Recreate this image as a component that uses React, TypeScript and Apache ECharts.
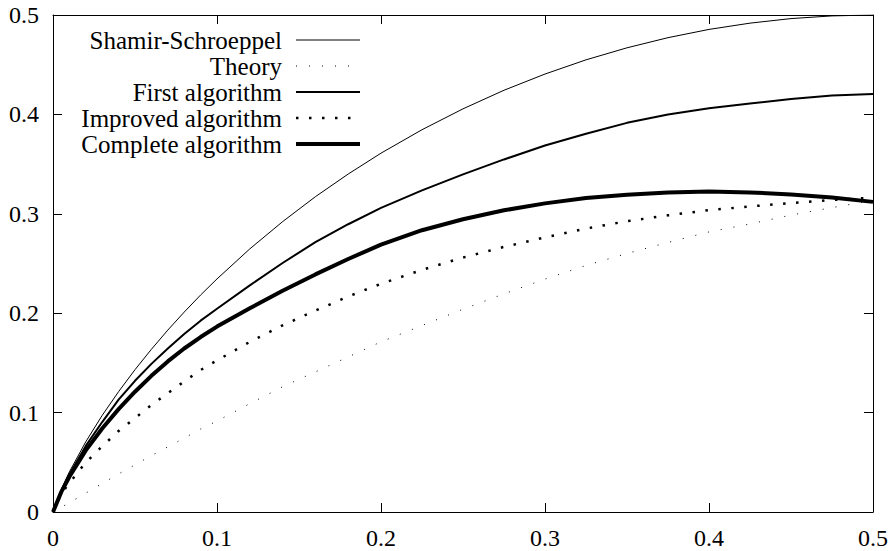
import React, { useEffect, useRef } from "react";
import * as echarts from "echarts";

const xs = [0, 0.005, 0.01, 0.02, 0.03, 0.04, 0.05, 0.06, 0.07, 0.08, 0.09, 0.1, 0.12, 0.14, 0.16, 0.18, 0.2, 0.225, 0.25, 0.275, 0.3, 0.325, 0.35, 0.375, 0.4, 0.425, 0.45, 0.475, 0.5];

const shamirSchroeppel = [0, 0.0227, 0.0404, 0.0707, 0.0972, 0.1211, 0.1432, 0.1637, 0.183, 0.2011, 0.2183, 0.2345, 0.2647, 0.2921, 0.3172, 0.34, 0.361, 0.3846, 0.4056, 0.4243, 0.4406, 0.4549, 0.467, 0.4772, 0.4855, 0.4918, 0.4964, 0.4991, 0.5];
const theory = [0, 0.0047, 0.0094, 0.019, 0.0286, 0.0383, 0.0475, 0.0567, 0.0655, 0.0744, 0.0835, 0.0915, 0.109, 0.126, 0.141, 0.156, 0.1712, 0.1876, 0.204, 0.2195, 0.2343, 0.248, 0.2601, 0.2712, 0.2818, 0.2898, 0.2987, 0.3062, 0.3135];
const firstAlgorithm = [0, 0.021, 0.038, 0.0665, 0.0905, 0.113, 0.132, 0.149, 0.1645, 0.179, 0.1925, 0.2045, 0.228, 0.2505, 0.2715, 0.2895, 0.306, 0.3235, 0.3397, 0.3547, 0.3687, 0.3805, 0.3915, 0.4, 0.4063, 0.411, 0.4155, 0.419, 0.4205];
const improvedAlgorithm = [0, 0.0183, 0.0293, 0.0499, 0.0661, 0.0815, 0.0945, 0.1076, 0.1195, 0.1314, 0.1428, 0.1525, 0.1711, 0.1878, 0.2026, 0.2168, 0.2296, 0.2436, 0.256, 0.2667, 0.2763, 0.2852, 0.2925, 0.2985, 0.3037, 0.3074, 0.3108, 0.3139, 0.3163];
const completeAlgorithm = [0, 0.02, 0.0355, 0.062, 0.084, 0.1035, 0.121, 0.137, 0.1515, 0.1645, 0.176, 0.1865, 0.205, 0.2225, 0.239, 0.2545, 0.269, 0.2835, 0.2945, 0.3035, 0.3105, 0.3158, 0.3192, 0.3215, 0.3225, 0.3215, 0.3195, 0.3165, 0.312];

const legendNames = ["Shamir-Schroeppel", "Theory", "First algorithm", "Improved algorithm", "Complete algorithm"];

const FONT = "Liberation Serif";

const pairs = (ys: number[]) => xs.map((x, i) => [x, ys[i]]);

export default function App() {
  const ref = useRef<HTMLDivElement>(null);
  useEffect(() => {
    if (!ref.current) return;
    const chart = echarts.init(ref.current, undefined, { renderer: "svg" });

    const styles = [
      { width: 1, type: "solid" as any },
      { width: 1, type: [1, 12] as any },
      { width: 2, type: "solid" as any },
      { width: 2.5, type: [2.5, 10.5] as any },
      { width: 4, type: "solid" as any },
    ];
    const seriesData = [shamirSchroeppel, theory, firstAlgorithm, improvedAlgorithm, completeAlgorithm];

    const axisCommon = {
      type: "value" as const,
      min: 0,
      max: 0.5,
      interval: 0.1,
      axisLine: { show: true, onZero: false, lineStyle: { color: "#000", width: 1 } },
      axisTick: { show: true, inside: true, length: 9, lineStyle: { color: "#000", width: 1 } },
      splitLine: { show: false },
    };

    const legendGraphics: any[] = [];
    legendNames.forEach((name, i) => {
      const y = 40 + i * 26;
      legendGraphics.push({
        type: "text",
        x: 282,
        y,
        style: {
          text: name,
          fill: "#000",
          fontFamily: FONT,
          fontSize: 25,
          align: "right",
          verticalAlign: "middle",
        },
      });
      const st = styles[i];
      legendGraphics.push({
        type: "line",
        shape: { x1: 296, y1: y, x2: 360, y2: y },
        style: {
          stroke: "#000",
          lineWidth: st.width,
          lineDash: Array.isArray(st.type) ? st.type : null,
          lineCap: "butt",
        },
      });
    });

    chart.setOption({
      animation: false,
      backgroundColor: "#fff",
      textStyle: { fontFamily: FONT },
      grid: { left: 53, right: 21, top: 15, bottom: 39, containLabel: false },
      xAxis: [
        {
          ...axisCommon,
          position: "bottom",
          axisLabel: { show: true, color: "#000", fontFamily: FONT, fontSize: 24, margin: 14 },
        },
        { ...axisCommon, position: "top", axisLabel: { show: false } },
      ],
      yAxis: [
        {
          ...axisCommon,
          position: "left",
          axisLabel: { show: true, color: "#000", fontFamily: FONT, fontSize: 24, margin: 14 },
        },
        { ...axisCommon, position: "right", axisLabel: { show: false } },
      ],
      series: seriesData.map((d, i) => ({
        name: legendNames[i],
        type: "line",
        xAxisIndex: 0,
        yAxisIndex: 0,
        data: pairs(d),
        showSymbol: false,
        symbol: "none",
        smooth: false,
        clip: true,
        lineStyle: { color: "#000", width: styles[i].width, type: styles[i].type, cap: "butt" },
      })),
      graphic: legendGraphics,
    });

    return () => chart.dispose();
  }, []);

  return (
    <div
      ref={ref}
      style={{ position: "fixed", left: 0, top: 0, width: 894, height: 551, background: "#fff" }}
    />
  );
}
